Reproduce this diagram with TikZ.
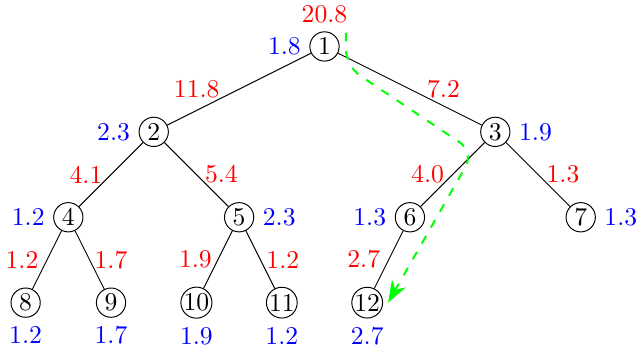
\documentclass[tikz,border=0pt]{standalone}
\usepackage{xcolor}
\usepackage{tikz}
\usetikzlibrary{positioning,arrows.meta,calc}
\tikzset{
  vert/.style={draw,circle,inner sep=0pt,minimum size=12pt},
  wt/.style={red,midway},
  walk/.style={green,thick,dash pattern={on 3.5pt off 4pt},rounded corners=7pt,-{Stealth[length=9pt,width=6.5pt]}},
}
\begin{document}
\begin{tikzpicture}[x=1.23cm,y=1.23cm,>=Stealth,font=\fontsize{10.5}{12}\selectfont]
  \useasboundingbox (-3.80,-3.624) rectangle (3.706,0.544);
  % vertices, subtree values in blue
  \node[vert,label={[red]above:20.8},label={[blue]left:1.8}] (n1) at (0,0) {1};
  \node[vert,label={[blue]left:2.3}] (n2) at (-2,-1) {2};
  \node[vert,label={[blue]right:1.9}] (n3) at (2,-1) {3};
  \node[vert,label={[blue]left:1.2}] (n4) at (-3,-2) {4};
  \node[vert,label={[blue]right:2.3}] (n5) at (-1,-2) {5};
  \node[vert,label={[blue]left:1.3}] (n6) at (1,-2) {6};
  \node[vert,label={[blue]right:1.3}] (n7) at (3,-2) {7};
  \node[vert,label={[blue]below:1.2}] (n8) at (-3.5,-3) {8};
  \node[vert,label={[blue]below:1.7}] (n9) at (-2.5,-3) {9};
  \node[vert,label={[blue]below:1.9}] (n10) at (-1.5,-3) {10};
  \node[vert,label={[blue]below:1.2}] (n11) at (-0.5,-3) {11};
  \node[vert,label={[blue]below:2.7}] (n12) at (0.5,-3) {12};
  % edges with weights
  \draw (n1) -- node[wt,left=4.5pt]{11.8} (n2);
  \draw (n1) -- node[wt,right=3.5pt]{7.2} (n3);
  \draw (n2) -- node[wt,left]{4.1} (n4);
  \draw (n2) -- node[wt,right]{5.4} (n5);
  \draw (n3) -- node[wt,left]{4.0} (n6);
  \draw (n3) -- node[wt,right]{1.3} (n7);
  \draw (n4) -- node[wt,left]{1.2} (n8);
  \draw (n4) -- node[wt,right=-1.5pt]{1.7} (n9);
  \draw (n5) -- node[wt,left=-1pt]{1.9} (n10);
  \draw (n5) -- node[wt,right=-1pt]{1.2} (n11);
  \draw (n6) -- node[wt,left]{2.7} (n12);
  % walk down to leaf 12
  \coordinate (g0) at ($(n1)+(0.25,0.16)$);
  \coordinate (g1) at ($(n1)+(0.25,-0.23)$);
  \coordinate (g2) at ($(n3)+(-0.25,-0.235)$);
  \coordinate (g3) at ($(n12)+(0.244,0)$);
  \draw[walk] (g0) -- (g1) -- (g2) -- (g3);
\end{tikzpicture}
\end{document}
